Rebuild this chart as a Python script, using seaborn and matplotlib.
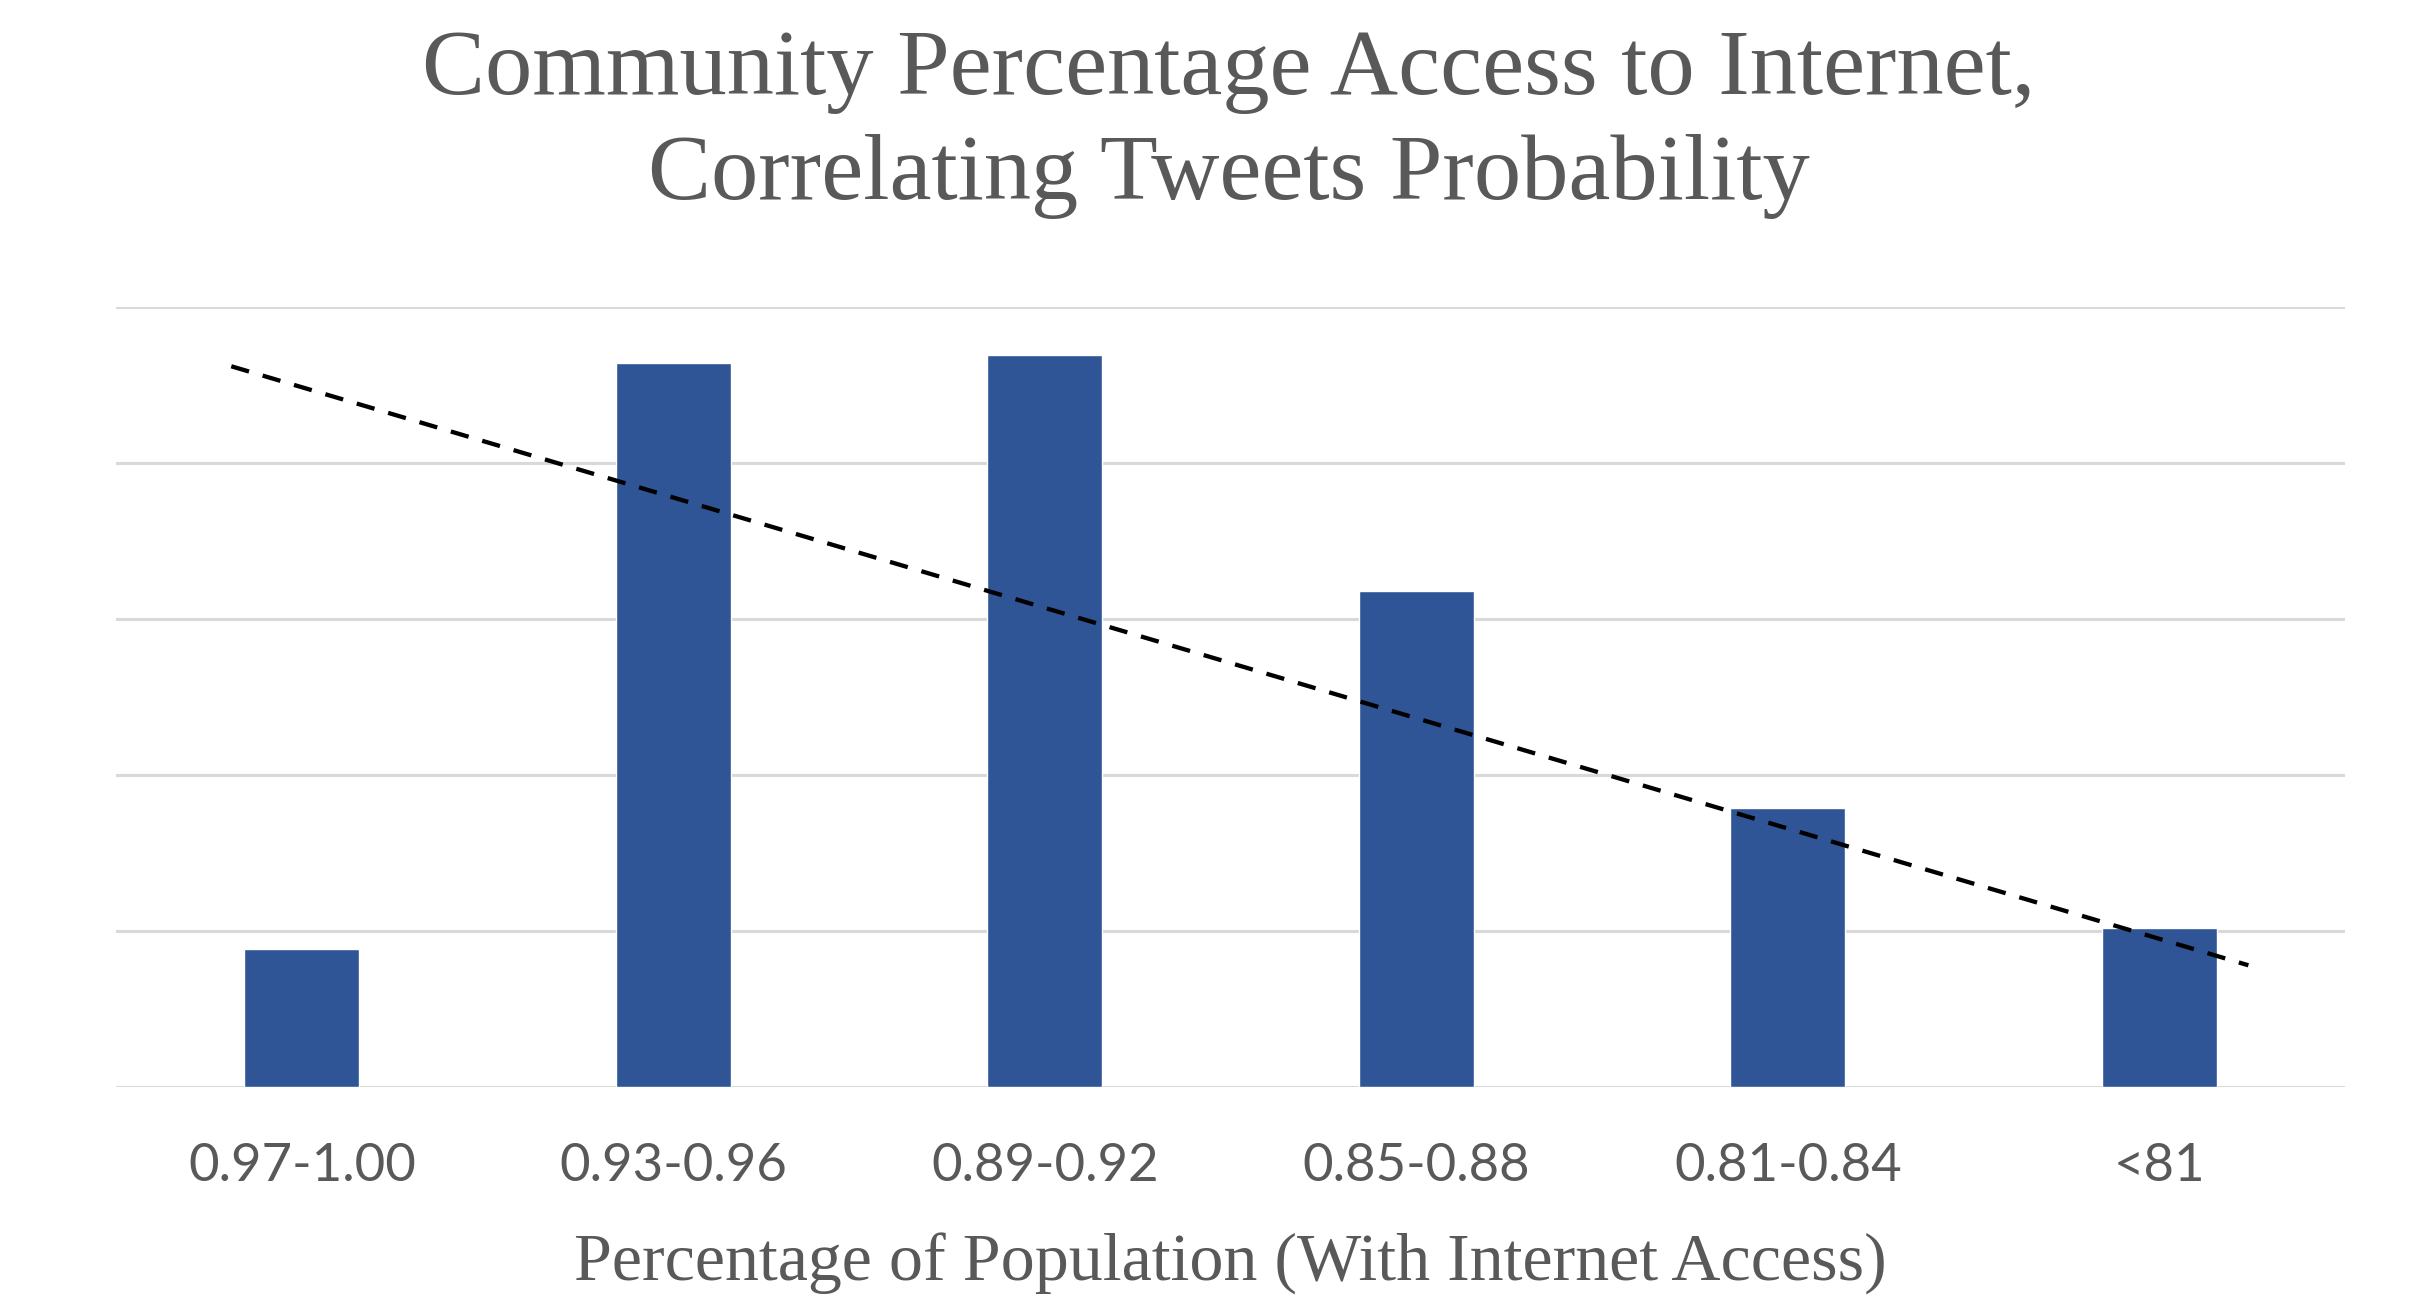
import matplotlib
matplotlib.use("Agg")
import matplotlib.pyplot as plt
import seaborn as sns
import pandas as pd

# values (y axis has no labels, units = gridline steps)
categories = ["0.97-1.00", "0.93-0.96", "0.89-0.92", "0.85-0.88", "0.81-0.84", "<81"]
values = [0.885, 4.64, 4.69, 3.18, 1.79, 1.02]

# dashed trend line end points (category position, value)
trend_x = [-0.19, 5.24]
trend_y = [4.62, 0.78]

bar_color = "#2F5597"
text_color = "#595959"
grid_color = "#D9D9D9"

sns.set_theme(style="white")
serif = ["Liberation Serif", "DejaVu Serif"]
sans = ["Lato", "DejaVu Sans"]

df = pd.DataFrame({"range": categories, "value": values})

fig = plt.figure(figsize=(24.24, 13.03), dpi=100)
ax = fig.add_axes([0.0479, 0.1658, 0.9195, 0.5986])

sns.barplot(data=df, x="range", y="value", color=bar_color, width=0.31,
            saturation=1, ax=ax, zorder=3)

ax.plot(trend_x, trend_y, color="black", linestyle=(0, (4.3, 3.3)), linewidth=3.1, zorder=4)

ax.set_xlim(-0.5, len(categories) - 0.5)
ax.set_ylim(0, 5)
ax.set_yticks(range(0, 6))
ax.set_yticklabels([])
ax.yaxis.grid(True, color=grid_color, linewidth=2.2, zorder=0)
ax.set_axisbelow(True)
ax.tick_params(axis="both", length=0)
for s in ax.spines.values():
    s.set_visible(False)

for lbl in ax.get_xticklabels():
    lbl.set_family(sans)
    lbl.set_fontsize(38)
    lbl.set_color(text_color)
ax.tick_params(axis="x", pad=40)

ax.set_xlabel("Percentage of Population (With Internet Access)", family=serif,
              fontsize=49, color=text_color, labelpad=31)
ax.set_ylabel("")

fig.text(0.507, 0.905, "Community Percentage Access to Internet,\nCorrelating Tweets Probability",
         ha="center", va="center", family=serif, fontsize=68, color=text_color,
         linespacing=1.31)

fig.savefig("out.png", dpi=100, facecolor="white")
